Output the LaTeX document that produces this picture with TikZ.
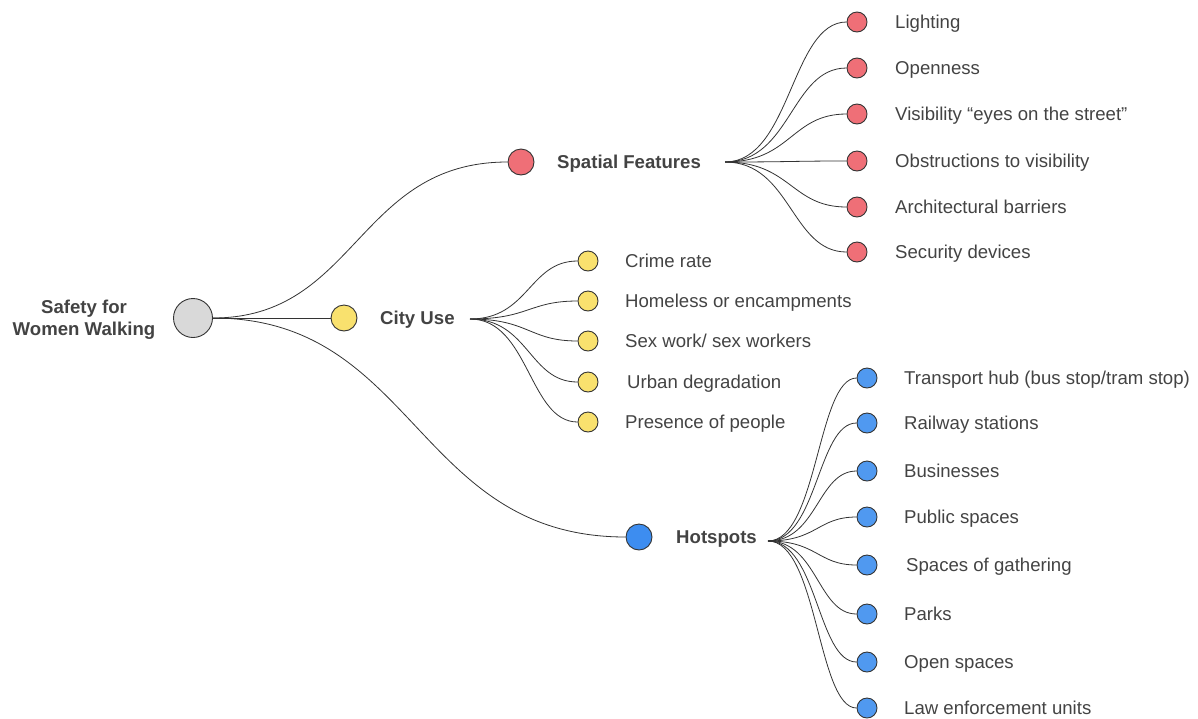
\documentclass[tikz,border=0pt]{standalone}
\usepackage{fontspec}
\setmainfont{Liberation Sans}
\usetikzlibrary{calc}
\definecolor{txt}{HTML}{434343}
\definecolor{ln}{HTML}{333333}
\definecolor{cgray}{HTML}{D9D9D9}
\definecolor{cred}{HTML}{EF6F77}
\definecolor{cyel}{HTML}{F9E16E}
\definecolor{cblue}{HTML}{3D8DF0}
\definecolor{cblue2}{HTML}{5099F0}
\tikzset{
  circ/.style={circle, draw=ln, line width=0.9pt, inner sep=0pt},
  big/.style={circ, minimum size=26pt},
  small/.style={circ, minimum size=20pt},
  lbl/.style={anchor=base west, inner sep=0pt, text=txt, font=\fontsize{18.6pt}{22pt}\selectfont},
  blbl/.style={lbl, font=\fontsize{18.6pt}{22pt}\selectfont\bfseries},
  conn/.style={draw=ln, line width=0.8pt},
  hc/.style={to path={let \p1=(\tikztostart), \p2=(\tikztotarget) in .. controls ({(\x1+\x2)/2},\y1) and ({(\x1+\x2)/2},\y2) .. (\tikztotarget) \tikztonodes}}
}
\begin{document}
\begin{tikzpicture}[x=1pt,y=-1pt]
\useasboundingbox (0,0) rectangle (1198,718);
% root
\node[circ, fill=cgray, minimum size=39pt] (root) at (193,318) {};
\node[align=center, inner sep=0pt, text=txt, font=\fontsize{18.6pt}{21.5pt}\selectfont\bfseries, anchor=base] (rootlbl) at (84,335) {Safety for\\Women Walking};
% level 1
\node[big, fill=cred] (sp) at (521,162) {};
\node[blbl] (splbl) at (557,168.5) {Spatial Features};
\coordinate (spf) at (725,162);
\node[big, fill=cyel] (cu) at (344,318) {};
\node[blbl] (culbl) at (380,324.5) {City Use};
\coordinate (cuf) at (470,319);
\node[big, fill=cblue] (hs) at (639,537) {};
\node[blbl] (hslbl) at (676,543.5) {Hotspots};
\coordinate (hsf) at (768,541);
\draw[conn] (root) to[hc] (sp);
\draw[conn] (root) -- (cu);
\draw[conn] (root) to[hc] (hs);
% spatial children
\foreach \nm/\yy/\t in {s1/22/{Lighting}, s2/68/{Openness}, s3/114/{Visibility “eyes on the street”}, s4/161/{Obstructions to visibility}, s5/207/{Architectural barriers}, s6/252/{Security devices}}{
  \node[small, fill=cred] (\nm) at (857,\yy) {};
  \node[lbl] (\nm l) at (895,\yy+6.5) {\t};
  \draw[conn] (spf) to[hc] (\nm);
}
% city use children
\foreach \nm/\yy/\t/\xx in {c1/261/{Crime rate}/625, c2/301/{Homeless or encampments}/625, c3/341/{Sex work/ sex workers}/625, c4/382/{Urban degradation}/627, c5/422/{Presence of people}/625}{
  \node[small, fill=cyel] (\nm) at (588,\yy) {};
  \node[lbl] (\nm l) at (\xx,\yy+6.5) {\t};
  \draw[conn] (cuf) to[hc] (\nm);
}
% hotspots children
\foreach \nm/\yy/\t/\xx in {h1/378/{Transport hub (bus stop/tram stop)}/904, h2/423/{Railway stations}/904, h3/471/{Businesses}/904, h4/517/{Public spaces}/904, h5/565/{Spaces of gathering}/906, h6/614/{Parks}/904, h7/662/{Open spaces}/904, h8/708/{Law enforcement units}/904}{
  \node[small, fill=cblue2] (\nm) at (867,\yy) {};
  \node[lbl] (\nm l) at (\xx,\yy+6.5) {\t};
  \draw[conn] (hsf) to[hc] (\nm);
}
\end{tikzpicture}
\end{document}
